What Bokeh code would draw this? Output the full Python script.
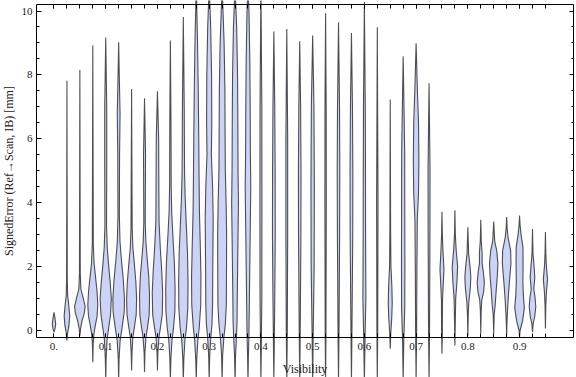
import math
from bokeh.plotting import figure
from bokeh.models import Range1d, LinearAxis, FixedTicker
from bokeh.core.properties import value
from bokeh.embed import file_html
from bokeh.resources import INLINE

# ---------------- data ----------------
visibility = [0.0, 0.025, 0.05, 0.075, 0.1, 0.125, 0.15, 0.175, 0.2, 0.225,
              0.25, 0.275, 0.3, 0.325, 0.35, 0.375, 0.4, 0.425, 0.45, 0.475,
              0.5, 0.525, 0.55, 0.575, 0.6, 0.625, 0.65, 0.675, 0.7, 0.725,
              0.75, 0.775, 0.8, 0.825, 0.85, 0.875, 0.9, 0.925, 0.95]

# signed error levels (mm) at which the violin profile was read, per visibility
error_levels = [
    [-0.05, 0.05, 0.2, 0.38, 0.57],
    [-0.31, -0.1, 0.15, 0.45, 0.8, 1.1, 1.6, 7.82],
    [-0.16, 0.1, 0.3, 0.55, 0.75, 1.0, 1.3, 1.8, 8.15],
    [-0.99, -0.4, -0.1, 0.15, 0.45, 0.8, 1.2, 1.6, 2.1, 2.7, 8.92],
    [-1.6, -0.9, -0.3, 0.1, 0.5, 1.0, 1.5, 2.0, 2.6, 3.3, 5.0, 7.0, 9.17],
    [-1.6, -0.9, -0.3, 0.1, 0.6, 1.0, 1.6, 2.2, 2.8, 3.6, 5.5, 6.8, 8.0, 9.02],
    [-1.25, -0.7, -0.2, 0.1, 0.5, 1.0, 1.5, 2.0, 2.6, 3.2, 7.56],
    [-1.3, -0.7, -0.2, 0.1, 0.5, 1.1, 1.7, 2.2, 2.8, 3.4, 5.5, 7.27],
    [-1.25, -0.7, -0.2, 0.1, 0.5, 1.2, 1.9, 2.6, 3.4, 4.5, 6.0, 7.49],
    [-1.6, -0.9, -0.3, 0.1, 0.6, 1.3, 2.1, 2.9, 3.7, 4.5, 6.5, 9.08],
    [-1.6, -0.9, -0.3, 0.1, 0.7, 1.5, 2.4, 3.3, 4.2, 5.0, 7.0, 9.81],
    [-1.6, -0.9, -0.3, 0.1, 0.8, 1.7, 2.7, 3.7, 4.8, 6.0, 7.5, 9.0, 10.8],
    [-1.6, -0.8, -0.2, 0.2, 0.8, 2.0, 3.5, 4.5, 5.5, 6.5, 8.0, 9.5, 10.8],
    [-1.6, -0.8, -0.2, 0.2, 0.8, 2.0, 3.0, 4.0, 5.0, 6.0, 7.5, 9.0, 10.8],
    [-1.6, -0.8, -0.2, 0.3, 1.0, 2.0, 3.0, 4.0, 5.0, 6.5, 8.0, 9.5, 10.8],
    [-1.6, -0.8, -0.2, 0.5, 1.5, 3.0, 4.5, 5.5, 7.0, 8.5, 10.0, 10.8],
    [-1.6, -0.5, 1.0, 4.0, 7.0, 10.8],
    [-1.6, -0.5, 1.0, 3.0, 5.0, 7.0, 9.36],
    [-1.6, 0.0, 3.0, 6.0, 9.44],
    [-1.6, 0.0, 3.0, 5.0, 7.0, 9.05],
    [-1.6, 0.0, 2.0, 4.5, 7.0, 9.23],
    [-1.6, 0.0, 4.0, 7.0, 9.93],
    [-1.6, 0.0, 3.0, 5.0, 7.0, 9.65],
    [-1.6, 0.0, 3.0, 5.0, 7.0, 9.31],
    [-1.6, 0.0, 1.0, 3.0, 5.0, 7.0, 10.28],
    [-1.6, 0.0, 4.0, 9.49],
    [-0.57, -0.1, 0.4, 0.85, 1.4, 2.0, 3.0, 7.23],
    [-1.6, -0.3, 0.7, 2.0, 4.0, 5.6, 7.0, 8.58],
    [-1.6, 0.0, 2.0, 3.5, 4.3, 5.3, 6.5, 7.5, 8.99],
    [-1.6, 0.0, 3.0, 5.0, 7.74],
    [-0.73, 0.0, 0.9, 1.3, 1.9, 2.5, 3.0, 3.72],
    [-0.47, 0.3, 1.0, 1.5, 2.0, 2.5, 3.0, 3.76],
    [-0.16, 0.5, 0.9, 1.3, 1.65, 2.0, 2.4, 2.8, 3.23],
    [-0.09, 0.6, 0.95, 1.2, 1.5, 1.85, 2.1, 2.4, 2.8, 3.47],
    [-0.1, 0.5, 0.8, 1.3, 1.7, 2.1, 2.5, 2.8, 3.41],
    [-0.13, 0.4, 0.8, 1.2, 1.6, 2.1, 2.5, 2.9, 3.2, 3.55],
    [-0.2, 0.0, 0.3, 0.7, 1.1, 1.5, 2.1, 2.6, 3.0, 3.3, 3.6],
    [-0.05, 0.2, 0.45, 0.75, 1.05, 1.3, 1.65, 2.0, 2.4, 3.18],
    [0.06, 0.8, 1.2, 1.6, 2.0, 2.4, 3.08],
]

# relative density (violin half-width) at each of those levels
error_density = [
    [0, 1.0, 1.7, 1.0, 0],
    [0, 0.6, 2.0, 2.8, 1.8, 0.7, 0.35, 0],
    [0, 0.9, 2.2, 4.5, 5.3, 3.5, 1.0, 0.4, 0],
    [0, 0.4, 1.2, 2.5, 4.3, 5.0, 4.3, 3.0, 1.3, 0.5, 0],
    [0, 0.4, 1.3, 3.0, 4.8, 5.6, 4.5, 3.0, 1.5, 0.8, 1.0, 1.0, 0],
    [0, 0.4, 1.5, 3.5, 5.6, 5.8, 4.6, 2.8, 1.3, 0.7, 0.9, 1.4, 0.6, 0],
    [0, 0.4, 1.3, 2.8, 4.6, 5.0, 4.3, 3.0, 1.3, 0.6, 0],
    [0, 0.4, 1.5, 3.0, 4.7, 5.0, 4.2, 2.8, 1.3, 0.7, 1.0, 0],
    [0, 0.4, 1.5, 3.0, 4.8, 5.2, 4.2, 2.8, 1.6, 1.4, 1.2, 0],
    [0, 0.5, 1.6, 3.2, 4.5, 4.7, 4.0, 2.6, 1.3, 0.8, 0.6, 0],
    [0, 0.5, 1.6, 3.2, 4.5, 4.7, 4.2, 3.0, 1.8, 1.2, 0.9, 0],
    [0, 0.5, 1.6, 3.0, 4.5, 4.7, 4.0, 3.2, 2.8, 2.5, 2.0, 1.3, 0],
    [0, 0.5, 1.6, 2.8, 3.4, 3.6, 4.0, 3.4, 2.2, 2.6, 2.4, 1.5, 0],
    [0, 0.5, 1.8, 3.2, 4.2, 4.4, 4.5, 4.0, 3.2, 3.0, 2.8, 2.0, 0],
    [0, 0.5, 1.4, 2.0, 2.2, 2.6, 3.0, 3.4, 3.0, 2.8, 2.5, 1.6, 0],
    [0, 0.4, 0.9, 1.2, 1.6, 2.2, 2.8, 2.4, 2.2, 1.8, 1.0, 0],
    [0, 0.4, 0.9, 1.0, 0.9, 0],
    [0, 0.4, 0.9, 1.4, 1.3, 0.9, 0],
    [0, 0.5, 0.9, 0.9, 0],
    [0, 0.5, 1.2, 1.3, 0.9, 0],
    [0, 0.6, 1.5, 1.7, 1.3, 0],
    [0, 0.4, 0.7, 0.6, 0],
    [0, 0.5, 1.1, 1.3, 1.0, 0],
    [0, 0.5, 1.3, 1.4, 1.0, 0],
    [0, 0.8, 1.5, 1.2, 1.1, 0.9, 0],
    [0, 0.4, 0.7, 0],
    [0, 0.5, 1.5, 2.0, 1.6, 0.7, 0.4, 0],
    [0, 0.6, 1.6, 1.7, 1.6, 1.5, 0.8, 0],
    [0, 0.5, 0.8, 1.2, 2.4, 2.8, 2.4, 1.3, 0],
    [0, 0.5, 0.9, 1.0, 0],
    [0, 0.4, 0.5, 1.0, 2.0, 1.0, 0.4, 0],
    [0, 0.4, 0.8, 2.0, 2.7, 1.3, 0.4, 0],
    [0, 0.4, 1.0, 2.4, 3.0, 2.2, 0.8, 0.4, 0],
    [0, 0.4, 1.0, 2.8, 3.6, 2.5, 1.3, 1.4, 0.5, 0],
    [0, 0.5, 1.5, 2.6, 3.6, 4.2, 3.0, 1.0, 0],
    [0, 0.5, 1.2, 2.0, 3.0, 4.3, 4.0, 1.5, 0.5, 0],
    [0, 0.5, 3.0, 4.8, 3.8, 3.3, 3.5, 3.4, 1.5, 0.5, 0],
    [0, 0.6, 2.3, 3.3, 2.5, 1.3, 2.3, 1.6, 0.5, 0],
    [0, 0.4, 1.0, 2.1, 1.0, 0.4, 0],
]

x_tick_values = [0.0, 0.1, 0.2, 0.3, 0.4, 0.5, 0.6, 0.7, 0.8, 0.9]
x_tick_labels = ["0.", "0.1", "0.2", "0.3", "0.4", "0.5", "0.6", "0.7", "0.8", "0.9"]
y_tick_values = [0, 2, 4, 6, 8, 10]
y_minor_values = [0, 0.5, 1, 1.5, 2, 2.5, 3, 3.5, 4, 4.5, 5, 5.5, 6, 6.5, 7, 7.5,
                  8, 8.5, 9, 9.5, 10]
x_title = "Visibility"
y_title = "SignedError (Ref\u2192Scan, IB) [mm]"

# ---------------- layout / style constants ----------------
DENSITY_TO_X = 1.0 / 517.3          # density unit -> half width in visibility units
FRAME_X0, FRAME_X1 = -0.0338, 1.0043
FRAME_Y0, FRAME_Y1 = -0.219, 10.2
FONT = "Liberation Serif"
TXT = "#222222"

p = figure(width=576, height=377, output_backend="svg", toolbar_location=None,
           x_range=Range1d(-0.10342, 1.01005), y_range=Range1d(-1.471, 10.329),
           x_axis_location=None, y_axis_location=None,
           min_border_left=0, min_border_right=0, min_border_top=0, min_border_bottom=0)
p.outline_line_color = None
p.grid.visible = False
p.background_fill_color = "white"
p.border_fill_color = "white"

xs, ys = [], []
for v, lv, dn in zip(visibility, error_levels, error_density):
    right = [v + d * DENSITY_TO_X for d in dn]
    left = [v - d * DENSITY_TO_X for d in reversed(dn)]
    xs.append(right + left)
    ys.append(list(lv) + list(reversed(lv)))

p.patches(xs, ys, fill_color="#cdd3f6", fill_alpha=1.0,
          line_color="#333333", line_alpha=0.85, line_width=1.1)


def style_axis(ax, tick_in, minor_in):
    ax.axis_line_color = "black"
    ax.axis_line_width = 1
    ax.major_tick_line_color = "black"
    ax.minor_tick_line_color = "black"
    ax.major_tick_in = tick_in
    ax.major_tick_out = 0
    ax.minor_tick_in = minor_in
    ax.minor_tick_out = 0
    ax.major_label_text_font = FONT
    ax.major_label_text_font_size = "11px"
    ax.major_label_text_color = TXT


# left axis
yl = LinearAxis(ticker=FixedTicker(ticks=y_tick_values, minor_ticks=y_minor_values),
                bounds=(FRAME_Y0, FRAME_Y1), fixed_location=FRAME_X0)
style_axis(yl, 5, 3)
yl.major_label_standoff = 4
p.add_layout(yl, "left")

# right axis (frame)
yr = LinearAxis(ticker=FixedTicker(ticks=y_tick_values, minor_ticks=y_minor_values),
                bounds=(FRAME_Y0, FRAME_Y1), fixed_location=FRAME_X1)
style_axis(yr, 4, 2)
yr.major_label_overrides = {t: "" for t in y_tick_values}
yr.major_label_standoff = 0
p.add_layout(yr, "right")

# bottom axis
xb = LinearAxis(ticker=FixedTicker(ticks=x_tick_values, minor_ticks=visibility),
                bounds=(FRAME_X0, FRAME_X1), fixed_location=FRAME_Y0)
style_axis(xb, 4, 4)
xb.major_label_overrides = dict(zip(x_tick_values, x_tick_labels))
xb.major_label_standoff = 6
p.add_layout(xb, "below")

# top axis (frame)
xt = LinearAxis(ticker=FixedTicker(ticks=x_tick_values, minor_ticks=visibility),
                bounds=(FRAME_X0, FRAME_X1), fixed_location=FRAME_Y1)
style_axis(xt, 4, 4)
xt.major_label_overrides = {t: "" for t in x_tick_values}
xt.major_label_standoff = 0
p.add_layout(xt, "above")

# axis titles
p.text(x=[(FRAME_X0 + FRAME_X1) / 2], y=[-1.22], text=[x_title],
       text_font=value(FONT), text_font_size="12px", text_color=TXT,
       text_align="center", text_baseline="middle")
p.text(x=[-0.087], y=[(FRAME_Y0 + FRAME_Y1) / 2], text=[y_title], angle=math.pi / 2,
       text_font=value(FONT), text_font_size="12px", text_color=TXT,
       text_align="center", text_baseline="middle")

open("out.html", "w").write(file_html(p, INLINE))
